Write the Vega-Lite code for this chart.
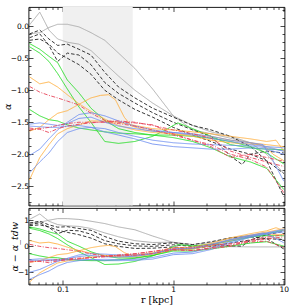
{
"$schema":"https://vega.github.io/schema/vega-lite/v6.json",
"background":"white",
"padding":{"left":1.5,"top":5,"right":6,"bottom":0},
"spacing":0,
"config":{"view":{"stroke":"black","strokeWidth":0.9},"axis":{"grid":false,"domain":false,"tickColor":"black","tickWidth":0.7,"labelFont":"DejaVu Sans","labelFontSize":7.5,"labelColor":"black","titleColor":"black","titleFontWeight":"normal","titleFont":"DejaVu Serif","titleFontSize":9.5,"labelFlush":false,"labelOverlap":false}},
"datasets":{"L":[
{"s":"gA","r":0.05,"a":-0.12,"d":0.9},{"s":"gA","r":0.062,"a":-0.1,"d":0.93},{"s":"gA","r":0.075,"a":-0.02,"d":1.01},{"s":"gA","r":0.09,"a":0.03,"d":1.07},{"s":"gA","r":0.11,"a":0.03,"d":1.07},{"s":"gA","r":0.14,"a":-0.01,"d":1.04},{"s":"gA","r":0.18,"a":-0.1,"d":0.97},{"s":"gA","r":0.24,"a":-0.22,"d":0.88},{"s":"gA","r":0.32,"a":-0.42,"d":0.75},{"s":"gA","r":0.45,"a":-0.66,"d":0.64},{"s":"gA","r":0.65,"a":-0.98,"d":0.4},{"s":"gA","r":1,"a":-1.4,"d":0.15},{"s":"gA","r":1.5,"a":-1.62,"d":0},{"s":"gA","r":2.2,"a":-1.68,"d":0},{"s":"gA","r":3.3,"a":-1.75,"d":-0.01},{"s":"gA","r":5,"a":-1.82,"d":-0.02},{"s":"gA","r":7,"a":-1.88,"d":-0.02},{"s":"gA","r":10,"a":-1.95,"d":-0.02},
{"s":"gB","r":0.05,"a":0.02,"d":1.04},{"s":"gB","r":0.062,"a":0.22,"d":1.25},{"s":"gB","r":0.075,"a":-0.06,"d":0.97},{"s":"gB","r":0.09,"a":-0.2,"d":0.84},{"s":"gB","r":0.11,"a":-0.25,"d":0.79},{"s":"gB","r":0.14,"a":-0.28,"d":0.77},{"s":"gB","r":0.18,"a":-0.38,"d":0.69},{"s":"gB","r":0.24,"a":-0.58,"d":0.52},{"s":"gB","r":0.32,"a":-0.78,"d":0.37},{"s":"gB","r":0.45,"a":-1,"d":0.22},{"s":"gB","r":0.65,"a":-1.2,"d":0.15},{"s":"gB","r":1,"a":-1.4,"d":0.16},{"s":"gB","r":1.5,"a":-1.55,"d":0.07},{"s":"gB","r":2.2,"a":-1.65,"d":0.15},{"s":"gB","r":3.3,"a":-1.72,"d":0.33},{"s":"gB","r":5,"a":-1.82,"d":0.43},{"s":"gB","r":7,"a":-2,"d":0.4},{"s":"gB","r":10,"a":-2.3,"d":0.26},
{"s":"D1","r":0.05,"a":-0.12,"d":0.9},{"s":"D1","r":0.062,"a":-0.06,"d":0.97},{"s":"D1","r":0.075,"a":-0.2,"d":0.83},{"s":"D1","r":0.09,"a":-0.3,"d":0.74},{"s":"D1","r":0.11,"a":-0.28,"d":0.76},{"s":"D1","r":0.14,"a":-0.36,"d":0.69},{"s":"D1","r":0.18,"a":-0.45,"d":0.62},{"s":"D1","r":0.24,"a":-0.72,"d":0.38},{"s":"D1","r":0.32,"a":-0.95,"d":0.2},{"s":"D1","r":0.45,"a":-1.12,"d":0.1},{"s":"D1","r":0.65,"a":-1.28,"d":0.07},{"s":"D1","r":1,"a":-1.42,"d":0.14},{"s":"D1","r":1.5,"a":-1.55,"d":0.07},{"s":"D1","r":2.2,"a":-1.62,"d":0.18},{"s":"D1","r":3.3,"a":-1.72,"d":0.33},{"s":"D1","r":5,"a":-1.88,"d":0.37},{"s":"D1","r":7,"a":-2.1,"d":0.3},{"s":"D1","r":10,"a":-2.66,"d":-0.1},
{"s":"D2","r":0.05,"a":-0.18,"d":0.84},{"s":"D2","r":0.062,"a":-0.12,"d":0.91},{"s":"D2","r":0.075,"a":-0.3,"d":0.73},{"s":"D2","r":0.09,"a":-0.55,"d":0.49},{"s":"D2","r":0.11,"a":-0.42,"d":0.62},{"s":"D2","r":0.14,"a":-0.45,"d":0.6},{"s":"D2","r":0.18,"a":-0.6,"d":0.47},{"s":"D2","r":0.24,"a":-0.88,"d":0.22},{"s":"D2","r":0.32,"a":-1.05,"d":0.1},{"s":"D2","r":0.45,"a":-1.2,"d":0.02},{"s":"D2","r":0.65,"a":-1.35,"d":0},{"s":"D2","r":1,"a":-1.5,"d":0.06},{"s":"D2","r":1.5,"a":-1.62,"d":0},{"s":"D2","r":2.2,"a":-1.72,"d":0.08},{"s":"D2","r":3.3,"a":-2.03,"d":0.02},{"s":"D2","r":4.2,"a":-2.16,"d":0.01},{"s":"D2","r":5,"a":-2,"d":0.25},{"s":"D2","r":7,"a":-1.95,"d":0.45},{"s":"D2","r":10,"a":-1.98,"d":0.58},
{"s":"D3","r":0.05,"a":-0.22,"d":0.8},{"s":"D3","r":0.062,"a":-0.2,"d":0.83},{"s":"D3","r":0.075,"a":-0.28,"d":0.75},{"s":"D3","r":0.09,"a":-0.42,"d":0.62},{"s":"D3","r":0.11,"a":-0.5,"d":0.54},{"s":"D3","r":0.14,"a":-0.6,"d":0.45},{"s":"D3","r":0.18,"a":-0.75,"d":0.32},{"s":"D3","r":0.24,"a":-1,"d":0.1},{"s":"D3","r":0.32,"a":-1.15,"d":0},{"s":"D3","r":0.45,"a":-1.3,"d":-0.08},{"s":"D3","r":0.65,"a":-1.42,"d":-0.07},{"s":"D3","r":1,"a":-1.58,"d":-0.02},{"s":"D3","r":1.5,"a":-1.7,"d":-0.08},{"s":"D3","r":2.2,"a":-1.8,"d":0},{"s":"D3","r":3.3,"a":-1.92,"d":0.13},{"s":"D3","r":5,"a":-2,"d":0.25},{"s":"D3","r":7,"a":-2.1,"d":0.3},{"s":"D3","r":10,"a":-2.3,"d":0.26},
{"s":"G1","r":0.05,"a":-0.27,"d":0.75},{"s":"G1","r":0.062,"a":-0.36,"d":0.67},{"s":"G1","r":0.075,"a":-0.47,"d":0.56},{"s":"G1","r":0.09,"a":-0.57,"d":0.47},{"s":"G1","r":0.11,"a":-0.84,"d":0.2},{"s":"G1","r":0.14,"a":-1.04,"d":0.01},{"s":"G1","r":0.18,"a":-1.28,"d":-0.21},{"s":"G1","r":0.24,"a":-1.47,"d":-0.37},{"s":"G1","r":0.32,"a":-1.6,"d":-0.45},{"s":"G1","r":0.45,"a":-1.66,"d":-0.44},{"s":"G1","r":0.65,"a":-1.7,"d":-0.35},{"s":"G1","r":1,"a":-1.74,"d":-0.18},{"s":"G1","r":1.5,"a":-1.8,"d":-0.18},{"s":"G1","r":2.2,"a":-1.9,"d":-0.1},{"s":"G1","r":3.3,"a":-2.04,"d":0.01},{"s":"G1","r":5,"a":-2.12,"d":0.13},{"s":"G1","r":7,"a":-2.22,"d":0.18},{"s":"G1","r":10,"a":-2.55,"d":0.01},
{"s":"G2","r":0.05,"a":-0.32,"d":0.7},{"s":"G2","r":0.062,"a":-0.42,"d":0.61},{"s":"G2","r":0.075,"a":-0.55,"d":0.48},{"s":"G2","r":0.09,"a":-0.74,"d":0.3},{"s":"G2","r":0.11,"a":-0.98,"d":0.06},{"s":"G2","r":0.14,"a":-1.26,"d":-0.21},{"s":"G2","r":0.18,"a":-1.5,"d":-0.43},{"s":"G2","r":0.24,"a":-1.8,"d":-0.7},{"s":"G2","r":0.32,"a":-1.83,"d":-0.68},{"s":"G2","r":0.45,"a":-1.8,"d":-0.58},{"s":"G2","r":0.65,"a":-1.72,"d":-0.37},{"s":"G2","r":0.85,"a":-1.62,"d":-0.15},{"s":"G2","r":1.1,"a":-1.51,"d":0.07},{"s":"G2","r":1.5,"a":-1.6,"d":0.02},{"s":"G2","r":2.2,"a":-1.72,"d":0.08},{"s":"G2","r":3.3,"a":-1.85,"d":0.2},{"s":"G2","r":5,"a":-1.9,"d":0.35},{"s":"G2","r":7,"a":-1.92,"d":0.48},{"s":"G2","r":10,"a":-1.93,"d":0.63},
{"s":"G3","r":0.05,"a":-1.3,"d":-0.28},{"s":"G3","r":0.062,"a":-1.4,"d":-0.37},{"s":"G3","r":0.075,"a":-1.46,"d":-0.43},{"s":"G3","r":0.09,"a":-1.48,"d":-0.44},{"s":"G3","r":0.11,"a":-1.54,"d":-0.5},{"s":"G3","r":0.14,"a":-1.59,"d":-0.54},{"s":"G3","r":0.18,"a":-1.62,"d":-0.55},{"s":"G3","r":0.24,"a":-1.65,"d":-0.55},{"s":"G3","r":0.32,"a":-1.67,"d":-0.52},{"s":"G3","r":0.45,"a":-1.68,"d":-0.46},{"s":"G3","r":0.65,"a":-1.7,"d":-0.35},{"s":"G3","r":1,"a":-1.7,"d":-0.14},{"s":"G3","r":1.5,"a":-1.72,"d":-0.1},{"s":"G3","r":2.2,"a":-1.75,"d":0.05},{"s":"G3","r":3.3,"a":-1.8,"d":0.25},{"s":"G3","r":5,"a":-1.88,"d":0.37},{"s":"G3","r":7,"a":-1.98,"d":0.42},{"s":"G3","r":10,"a":-2.15,"d":0.41},
{"s":"O1","r":0.05,"a":-0.79,"d":0.23},{"s":"O1","r":0.062,"a":-0.9,"d":0.13},{"s":"O1","r":0.075,"a":-0.87,"d":0.16},{"s":"O1","r":0.09,"a":-0.95,"d":0.09},{"s":"O1","r":0.11,"a":-1.07,"d":-0.03},{"s":"O1","r":0.14,"a":-1.21,"d":-0.16},{"s":"O1","r":0.18,"a":-1.33,"d":-0.26},{"s":"O1","r":0.24,"a":-1.45,"d":-0.35},{"s":"O1","r":0.32,"a":-1.55,"d":-0.4},{"s":"O1","r":0.45,"a":-1.62,"d":-0.4},{"s":"O1","r":0.65,"a":-1.66,"d":-0.31},{"s":"O1","r":1,"a":-1.68,"d":-0.12},{"s":"O1","r":1.5,"a":-1.7,"d":-0.08},{"s":"O1","r":2.2,"a":-1.72,"d":0.08},{"s":"O1","r":3.3,"a":-1.78,"d":0.27},{"s":"O1","r":5,"a":-1.82,"d":0.43},{"s":"O1","r":7,"a":-1.85,"d":0.55},{"s":"O1","r":10,"a":-1.88,"d":0.68},
{"s":"O2","r":0.05,"a":-1.64,"d":-0.62},{"s":"O2","r":0.062,"a":-1.58,"d":-0.55},{"s":"O2","r":0.075,"a":-1.46,"d":-0.43},{"s":"O2","r":0.09,"a":-1.36,"d":-0.32},{"s":"O2","r":0.11,"a":-1.32,"d":-0.28},{"s":"O2","r":0.14,"a":-1.22,"d":-0.17},{"s":"O2","r":0.18,"a":-1.12,"d":-0.05},{"s":"O2","r":0.22,"a":-1.08,"d":0.01},{"s":"O2","r":0.26,"a":-1.07,"d":0.04},{"s":"O2","r":0.3,"a":-1.15,"d":-0.01},{"s":"O2","r":0.36,"a":-1.42,"d":-0.24},{"s":"O2","r":0.42,"a":-1.56,"d":-0.35},{"s":"O2","r":0.55,"a":-1.62,"d":-0.34},{"s":"O2","r":0.75,"a":-1.65,"d":-0.24},{"s":"O2","r":1,"a":-1.68,"d":-0.12},{"s":"O2","r":1.5,"a":-1.72,"d":-0.1},{"s":"O2","r":2.2,"a":-1.78,"d":0.02},{"s":"O2","r":3.3,"a":-1.82,"d":0.23},{"s":"O2","r":5,"a":-1.84,"d":0.41},{"s":"O2","r":6,"a":-1.85,"d":0.48},{"s":"O2","r":7,"a":-1.9,"d":0.5},{"s":"O2","r":8,"a":-2,"d":0.46},{"s":"O2","r":10,"a":-2.1,"d":0.46},
{"s":"O3","r":0.05,"a":-2.4,"d":-1.38},{"s":"O3","r":0.062,"a":-2.05,"d":-1.02},{"s":"O3","r":0.075,"a":-1.85,"d":-0.82},{"s":"O3","r":0.09,"a":-1.68,"d":-0.64},{"s":"O3","r":0.11,"a":-1.6,"d":-0.56},{"s":"O3","r":0.14,"a":-1.54,"d":-0.49},{"s":"O3","r":0.18,"a":-1.48,"d":-0.41},{"s":"O3","r":0.24,"a":-1.48,"d":-0.38},{"s":"O3","r":0.32,"a":-1.5,"d":-0.35},{"s":"O3","r":0.45,"a":-1.55,"d":-0.33},{"s":"O3","r":0.65,"a":-1.6,"d":-0.25},{"s":"O3","r":1,"a":-1.62,"d":-0.06},{"s":"O3","r":1.5,"a":-1.65,"d":-0.03},{"s":"O3","r":2.2,"a":-1.68,"d":0.12},{"s":"O3","r":3.3,"a":-1.72,"d":0.33},{"s":"O3","r":5,"a":-1.76,"d":0.49},{"s":"O3","r":7,"a":-1.8,"d":0.6},{"s":"O3","r":8.5,"a":-1.78,"d":0.72},{"s":"O3","r":10,"a":-1.95,"d":0.61},
{"s":"B1","r":0.05,"a":-1.53,"d":-0.51},{"s":"B1","r":0.062,"a":-1.51,"d":-0.48},{"s":"B1","r":0.075,"a":-1.53,"d":-0.5},{"s":"B1","r":0.09,"a":-1.55,"d":-0.51},{"s":"B1","r":0.11,"a":-1.52,"d":-0.48},{"s":"B1","r":0.14,"a":-1.44,"d":-0.39},{"s":"B1","r":0.18,"a":-1.42,"d":-0.35},{"s":"B1","r":0.24,"a":-1.5,"d":-0.4},{"s":"B1","r":0.32,"a":-1.56,"d":-0.41},{"s":"B1","r":0.45,"a":-1.6,"d":-0.38},{"s":"B1","r":0.65,"a":-1.64,"d":-0.29},{"s":"B1","r":1,"a":-1.66,"d":-0.1},{"s":"B1","r":1.5,"a":-1.68,"d":-0.06},{"s":"B1","r":2.2,"a":-1.72,"d":0.08},{"s":"B1","r":3.3,"a":-1.78,"d":0.27},{"s":"B1","r":5,"a":-1.82,"d":0.43},{"s":"B1","r":6.5,"a":-1.85,"d":0.52},{"s":"B1","r":8,"a":-2.1,"d":0.36},{"s":"B1","r":10,"a":-2.42,"d":0.14},
{"s":"B2","r":0.05,"a":-2.02,"d":-1},{"s":"B2","r":0.062,"a":-1.92,"d":-0.89},{"s":"B2","r":0.075,"a":-1.76,"d":-0.73},{"s":"B2","r":0.09,"a":-1.62,"d":-0.58},{"s":"B2","r":0.11,"a":-1.5,"d":-0.46},{"s":"B2","r":0.14,"a":-1.38,"d":-0.33},{"s":"B2","r":0.18,"a":-1.35,"d":-0.28},{"s":"B2","r":0.24,"a":-1.4,"d":-0.3},{"s":"B2","r":0.32,"a":-1.48,"d":-0.33},{"s":"B2","r":0.45,"a":-1.56,"d":-0.34},{"s":"B2","r":0.65,"a":-1.62,"d":-0.27},{"s":"B2","r":1,"a":-1.66,"d":-0.1},{"s":"B2","r":1.5,"a":-1.7,"d":-0.08},{"s":"B2","r":2.2,"a":-1.75,"d":0.05},{"s":"B2","r":3.3,"a":-1.8,"d":0.25},{"s":"B2","r":5,"a":-1.85,"d":0.4},{"s":"B2","r":7,"a":-1.88,"d":0.52},{"s":"B2","r":10,"a":-1.9,"d":0.66},
{"s":"B3","r":0.05,"a":-2.29,"d":-1.27},{"s":"B3","r":0.062,"a":-2.12,"d":-1.09},{"s":"B3","r":0.075,"a":-1.98,"d":-0.95},{"s":"B3","r":0.09,"a":-1.8,"d":-0.76},{"s":"B3","r":0.11,"a":-1.66,"d":-0.62},{"s":"B3","r":0.14,"a":-1.6,"d":-0.55},{"s":"B3","r":0.18,"a":-1.58,"d":-0.51},{"s":"B3","r":0.24,"a":-1.6,"d":-0.5},{"s":"B3","r":0.32,"a":-1.66,"d":-0.51},{"s":"B3","r":0.45,"a":-1.72,"d":-0.5},{"s":"B3","r":0.65,"a":-1.78,"d":-0.43},{"s":"B3","r":1,"a":-1.82,"d":-0.26},{"s":"B3","r":1.5,"a":-1.84,"d":-0.22},{"s":"B3","r":2.2,"a":-1.85,"d":-0.05},{"s":"B3","r":3.3,"a":-1.86,"d":0.19},{"s":"B3","r":5,"a":-1.87,"d":0.38},{"s":"B3","r":7,"a":-1.9,"d":0.5},{"s":"B3","r":10,"a":-1.95,"d":0.61},
{"s":"B4","r":0.05,"a":-1.56,"d":-0.54},{"s":"B4","r":0.062,"a":-1.57,"d":-0.54},{"s":"B4","r":0.075,"a":-1.58,"d":-0.55},{"s":"B4","r":0.09,"a":-1.58,"d":-0.54},{"s":"B4","r":0.11,"a":-1.56,"d":-0.52},{"s":"B4","r":0.14,"a":-1.55,"d":-0.5},{"s":"B4","r":0.18,"a":-1.58,"d":-0.51},{"s":"B4","r":0.24,"a":-1.65,"d":-0.55},{"s":"B4","r":0.32,"a":-1.7,"d":-0.55},{"s":"B4","r":0.45,"a":-1.76,"d":-0.54},{"s":"B4","r":0.65,"a":-1.84,"d":-0.49},{"s":"B4","r":1,"a":-1.88,"d":-0.32},{"s":"B4","r":1.5,"a":-1.9,"d":-0.28},{"s":"B4","r":2.2,"a":-1.92,"d":-0.12},{"s":"B4","r":3.3,"a":-1.92,"d":0.13},{"s":"B4","r":5,"a":-1.9,"d":0.35},{"s":"B4","r":7,"a":-1.92,"d":0.48},{"s":"B4","r":10,"a":-2,"d":0.56},
{"s":"R1","r":0.05,"a":-0.94,"d":0.08},{"s":"R1","r":0.062,"a":-1.03,"d":0},{"s":"R1","r":0.075,"a":-1.08,"d":-0.05},{"s":"R1","r":0.09,"a":-1.12,"d":-0.08},{"s":"R1","r":0.11,"a":-1.17,"d":-0.13},{"s":"R1","r":0.14,"a":-1.23,"d":-0.18},{"s":"R1","r":0.18,"a":-1.36,"d":-0.29},{"s":"R1","r":0.24,"a":-1.47,"d":-0.37},{"s":"R1","r":0.32,"a":-1.5,"d":-0.35},{"s":"R1","r":0.45,"a":-1.51,"d":-0.29},{"s":"R1","r":0.65,"a":-1.54,"d":-0.19},{"s":"R1","r":1,"a":-1.68,"d":-0.12},{"s":"R1","r":1.5,"a":-1.78,"d":-0.16},{"s":"R1","r":2.2,"a":-1.85,"d":-0.05},{"s":"R1","r":3.3,"a":-2,"d":0.05},{"s":"R1","r":5,"a":-2.08,"d":0.17},{"s":"R1","r":7,"a":-2.2,"d":0.2},{"s":"R1","r":10,"a":-2.6,"d":-0.04},
{"s":"R2","r":0.05,"a":-1.59,"d":-0.57},{"s":"R2","r":0.062,"a":-1.61,"d":-0.58},{"s":"R2","r":0.075,"a":-1.66,"d":-0.63},{"s":"R2","r":0.09,"a":-1.6,"d":-0.56},{"s":"R2","r":0.11,"a":-1.56,"d":-0.52},{"s":"R2","r":0.14,"a":-1.53,"d":-0.48},{"s":"R2","r":0.18,"a":-1.51,"d":-0.44},{"s":"R2","r":0.24,"a":-1.49,"d":-0.39},{"s":"R2","r":0.32,"a":-1.48,"d":-0.33},{"s":"R2","r":0.45,"a":-1.5,"d":-0.28},{"s":"R2","r":0.65,"a":-1.55,"d":-0.2},{"s":"R2","r":1,"a":-1.62,"d":-0.06},{"s":"R2","r":1.5,"a":-1.68,"d":-0.06},{"s":"R2","r":2.2,"a":-1.75,"d":0.05},{"s":"R2","r":3.3,"a":-1.95,"d":0.1},{"s":"R2","r":5,"a":-2.05,"d":0.2},{"s":"R2","r":7,"a":-2.12,"d":0.28},{"s":"R2","r":10,"a":-2.19,"d":0.37},
{"s":"R3","r":0.05,"a":-1.62,"d":-0.6},{"s":"R3","r":0.062,"a":-1.6,"d":-0.57},{"s":"R3","r":0.075,"a":-1.58,"d":-0.55},{"s":"R3","r":0.09,"a":-1.55,"d":-0.51},{"s":"R3","r":0.11,"a":-1.52,"d":-0.48},{"s":"R3","r":0.14,"a":-1.5,"d":-0.45},{"s":"R3","r":0.18,"a":-1.5,"d":-0.43},{"s":"R3","r":0.24,"a":-1.5,"d":-0.4},{"s":"R3","r":0.32,"a":-1.52,"d":-0.37},{"s":"R3","r":0.45,"a":-1.56,"d":-0.34},{"s":"R3","r":0.65,"a":-1.62,"d":-0.27},{"s":"R3","r":1,"a":-1.7,"d":-0.14},{"s":"R3","r":1.5,"a":-1.78,"d":-0.16},{"s":"R3","r":2.2,"a":-1.88,"d":-0.08},{"s":"R3","r":3.3,"a":-2.05,"d":0},{"s":"R3","r":4.2,"a":-2.02,"d":0.15},{"s":"R3","r":5,"a":-2,"d":0.25},{"s":"R3","r":7,"a":-2.05,"d":0.35},{"s":"R3","r":10,"a":-2.11,"d":0.45}
]},
"vconcat":[
{"width":256,"height":198.5,
"resolve":{"axis":{"x":"independent","y":"independent"}},
"layer":[
{"data":{"values":[{}]},"mark":{"type":"rect","color":"#f0f0f0"},
"encoding":{"x":{"datum":0.1,"type":"quantitative","scale":{"type":"log","domain":[0.049,10.15],"nice":false},"axis":null},"x2":{"datum":0.43}}},
{"data":{"name":"L"},"mark":{"type":"line","strokeWidth":0.9,"clip":true},
"encoding":{
"x":{"field":"r","type":"quantitative","scale":{"type":"log","domain":[0.049,10.15],"nice":false},
"axis":{"orient":"bottom","values":[0.05,0.06,0.07,0.08,0.09,0.1,0.2,0.3,0.4,0.5,0.6,0.7,0.8,0.9,1,2,3,4,5,6,7,8,9,10],"labels":false,"title":null,"tickSize":{"condition":{"test":"datum.value==0.1||datum.value==1||datum.value==10","value":-4.5},"value":-2.5}}},
"y":{"field":"a","type":"quantitative","scale":{"domain":[-2.8,0.3],"nice":false,"zero":false},
"axis":{"orient":"left","title":"α","titleFontStyle":"italic","titlePadding":-2,"values":[-2.75,-2.625,-2.5,-2.375,-2.25,-2.125,-2,-1.875,-1.75,-1.625,-1.5,-1.375,-1.25,-1.125,-1,-0.875,-0.75,-0.625,-0.5,-0.375,-0.25,-0.125,0,0.125,0.25],"labelExpr":"abs(datum.value*2-round(datum.value*2))<0.001 ? format(datum.value,'.1f') : ''","labelPadding":4.5,"tickSize":{"condition":{"test":"abs(datum.value*2-round(datum.value*2))<0.001","value":-4.5},"value":-2.5}}},
"color":{"field":"s","type":"nominal","legend":null,"scale":{"domain":["gA","gB","D1","D2","D3","G1","G2","G3","O1","O2","O3","B1","B2","B3","B4","R1","R2","R3"],"range":["#a8a8a8","#a8a8a8","#222222","#222222","#222222","#22dd22","#22dd22","#22dd22","#ffb040","#ffb040","#ffb040","#6f8ff0","#6f8ff0","#6f8ff0","#6f8ff0","#e8455a","#e8455a","#e8455a"]}},
"strokeDash":{"field":"s","type":"nominal","legend":null,"scale":{"domain":["gA","gB","D1","D2","D3","G1","G2","G3","O1","O2","O3","B1","B2","B3","B4","R1","R2","R3"],"range":[[1,0],[1,0],[3.5,2],[3.5,2],[3.5,2],[1,0],[1,0],[1,0],[1,0],[1,0],[1,0],[1,0],[1,0],[1,0],[1,0],[4,1.5,1,1.5],[4,1.5,1,1.5],[4,1.5,1,1.5]]}}}},
{"data":{"values":[{}]},"mark":{"type":"point","opacity":0},
"encoding":{
"x":{"datum":1,"type":"quantitative","scale":{"type":"log","domain":[0.049,10.15],"nice":false},
"axis":{"orient":"top","values":[0.05,0.06,0.07,0.08,0.09,0.1,0.2,0.3,0.4,0.5,0.6,0.7,0.8,0.9,1,2,3,4,5,6,7,8,9,10],"labels":false,"title":null,"tickSize":{"condition":{"test":"datum.value==0.1||datum.value==1||datum.value==10","value":-4.5},"value":-2.5}}},
"y":{"datum":0,"type":"quantitative","scale":{"domain":[-2.8,0.3],"nice":false,"zero":false},
"axis":{"orient":"right","labels":false,"title":null,"values":[-2.75,-2.625,-2.5,-2.375,-2.25,-2.125,-2,-1.875,-1.75,-1.625,-1.5,-1.375,-1.25,-1.125,-1,-0.875,-0.75,-0.625,-0.5,-0.375,-0.25,-0.125,0,0.125,0.25],"tickSize":{"condition":{"test":"abs(datum.value*2-round(datum.value*2))<0.001","value":-4.5},"value":-2.5}}}}}
]},
{"width":256,"height":76.5,
"resolve":{"axis":{"x":"independent","y":"independent"}},
"layer":[
{"data":{"name":"L"},"mark":{"type":"line","strokeWidth":0.9,"clip":true},
"encoding":{
"x":{"field":"r","type":"quantitative","scale":{"type":"log","domain":[0.049,10.15],"nice":false},
"axis":{"orient":"bottom","values":[0.05,0.06,0.07,0.08,0.09,0.1,0.2,0.3,0.4,0.5,0.6,0.7,0.8,0.9,1,2,3,4,5,6,7,8,9,10],"labelExpr":"datum.value==0.1||datum.value==1||datum.value==10 ? format(datum.value,'~g') : ''","labelPadding":5,"title":"r [kpc]","titlePadding":0,"tickSize":{"condition":{"test":"datum.value==0.1||datum.value==1||datum.value==10","value":-4.5},"value":-2.5}}},
"y":{"field":"d","type":"quantitative","scale":{"domain":[-1.47,1.48],"nice":false,"zero":false},
"axis":{"orient":"left","title":"α − α_tdw","titleFontStyle":"italic","titlePadding":-2,"values":[-1.25,-1,-0.75,-0.5,-0.25,0,0.25,0.5,0.75,1,1.25],"labelExpr":"abs(datum.value-round(datum.value))<0.001 ? format(datum.value,'d') : ''","labelPadding":4.5,"tickSize":{"condition":{"test":"abs(datum.value-round(datum.value))<0.001","value":-4.5},"value":-2.5}}},
"color":{"field":"s","type":"nominal","legend":null,"scale":{"domain":["gA","gB","D1","D2","D3","G1","G2","G3","O1","O2","O3","B1","B2","B3","B4","R1","R2","R3"],"range":["#a8a8a8","#a8a8a8","#222222","#222222","#222222","#22dd22","#22dd22","#22dd22","#ffb040","#ffb040","#ffb040","#6f8ff0","#6f8ff0","#6f8ff0","#6f8ff0","#e8455a","#e8455a","#e8455a"]}},
"strokeDash":{"field":"s","type":"nominal","legend":null,"scale":{"domain":["gA","gB","D1","D2","D3","G1","G2","G3","O1","O2","O3","B1","B2","B3","B4","R1","R2","R3"],"range":[[1,0],[1,0],[3.5,2],[3.5,2],[3.5,2],[1,0],[1,0],[1,0],[1,0],[1,0],[1,0],[1,0],[1,0],[1,0],[1,0],[4,1.5,1,1.5],[4,1.5,1,1.5],[4,1.5,1,1.5]]}}}},
{"data":{"values":[{}]},"mark":{"type":"point","opacity":0},
"encoding":{
"x":{"datum":1,"type":"quantitative","scale":{"type":"log","domain":[0.049,10.15],"nice":false},
"axis":{"orient":"top","values":[0.05,0.06,0.07,0.08,0.09,0.1,0.2,0.3,0.4,0.5,0.6,0.7,0.8,0.9,1,2,3,4,5,6,7,8,9,10],"labels":false,"title":null,"tickSize":{"condition":{"test":"datum.value==0.1||datum.value==1||datum.value==10","value":-4.5},"value":-2.5}}},
"y":{"datum":0,"type":"quantitative","scale":{"domain":[-1.47,1.48],"nice":false,"zero":false},
"axis":{"orient":"right","labels":false,"title":null,"values":[-1.25,-1,-0.75,-0.5,-0.25,0,0.25,0.5,0.75,1,1.25],"tickSize":{"condition":{"test":"abs(datum.value-round(datum.value))<0.001","value":-4.5},"value":-2.5}}}}}
]}
]}
